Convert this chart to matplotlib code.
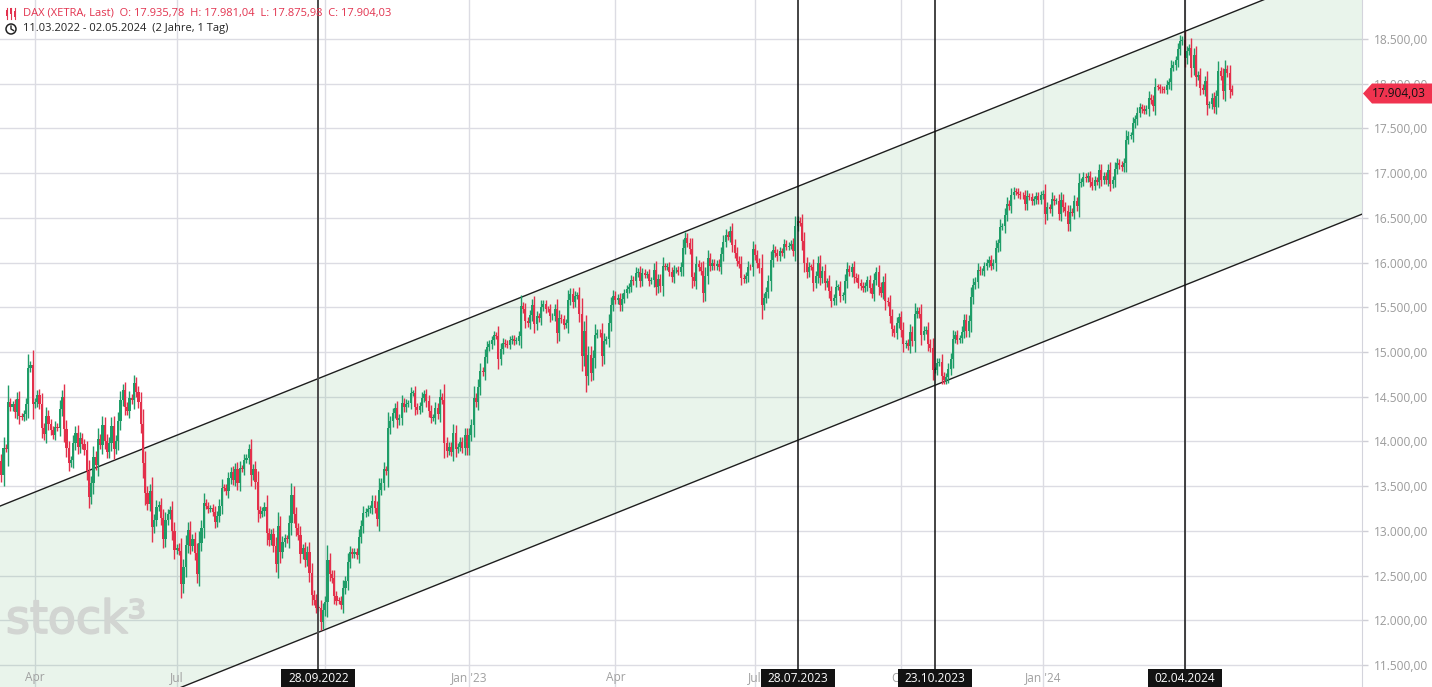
import numpy as np
import pandas as pd
import matplotlib
matplotlib.use("Agg")
import matplotlib.pyplot as plt
import matplotlib.transforms as mtransforms
import matplotlib.patheffects as pe
from matplotlib.patches import Polygon, Circle, Rectangle
from matplotlib.lines import Line2D
from matplotlib.ticker import FuncFormatter

# DAX (XETRA) daily candles 11.03.2022 - 02.05.2024 with a rising trend channel

W, H = 1432, 687        # output size in px
PLOT_W = 1362           # price scale starts here

plt.rcParams['font.family'] = ['Open Sans', 'DejaVu Sans']

# xetra holidays inside the range -> no candle
holidays = ["2022-04-15", "2022-04-18", "2022-12-26", "2023-04-07", "2023-04-10",
            "2023-05-01", "2023-12-25", "2023-12-26", "2024-01-01", "2024-03-29",
            "2024-04-01", "2024-05-01"]

# daily closes (one row per month)
closes_2022 = [
    13628, 13929, 13917, 14440, 14388, 14413, 14326, 14473, 14283, 14273, 14305, 14418, 14820, 14852, 14415,
    14446, 14518, 14424, 14151, 14078, 14284, 14193, 14124, 14076, 14164, 14153, 14362, 14502, 14142, 13924, 13756, 13794, 13979, 14098,
    13940, 14039, 13971, 13903, 13674, 13380, 13534, 13829, 13739, 14028, 13964, 14186, 14008, 13882, 13982, 14175, 13919, 14008, 14231, 14462, 14575, 14388,
    14340, 14485, 14460, 14653, 14556, 14446, 14199, 13762, 13427, 13304, 13447, 13038, 13126, 13266, 13293, 13145, 12912, 13118, 13186, 13231, 13003, 12784,
    12813, 12773, 12401, 12595, 12843, 13015, 12832, 12905, 12756, 12520, 12865, 13036, 13308, 13282, 13246, 13254, 13210, 13096, 13166, 13282, 13484,
    13479, 13449, 13587, 13662, 13574, 13687, 13535, 13701, 13694, 13795, 13816, 13911, 13627, 13697, 13544, 13230, 13194, 13221, 13271, 12971, 12893, 12961, 12835,
    12631, 13050, 12761, 12872, 12916, 12904, 13088, 13403, 13189, 13028, 12956, 12741, 12804, 12671, 12767, 12531, 12284, 12228, 12140, 12139, 11976, 12114,
    12209, 12671, 12517, 12471, 12273, 12220, 12219, 12172, 12356, 12438, 12649, 12765, 12741, 12767, 12731, 12931, 13053, 13196, 13211, 13243, 13254,
    13338, 13257, 13130, 13460, 13533, 13688, 13666, 14146, 14225, 14313, 14379, 14234, 14267, 14431, 14380, 14422, 14428, 14540, 14541, 14383, 14355, 14397,
    14490, 14529, 14448, 14343, 14261, 14265, 14371, 14306, 14497, 14460, 13987, 13894, 13942, 13885, 14098, 13914, 13940, 13995, 13926, 14071, 13924,
]
closes_2023 = [
    14069, 14181, 14490, 14436, 14610, 14792, 14775, 14948, 15058, 15087, 15134, 15187, 15181, 14920, 15033, 15103, 15093, 15082, 15132, 15150, 15126, 15128,
    15181, 15509, 15476, 15345, 15320, 15412, 15523, 15308, 15397, 15380, 15507, 15534, 15482, 15478, 15398, 15400, 15476, 15210, 15381, 15365,
    15305, 15328, 15578, 15654, 15559, 15631, 15633, 15428, 14959, 15233, 14735, 14967, 14768, 14933, 15195, 15216, 15210, 14957, 15128, 15142, 15329, 15522, 15629,
    15581, 15603, 15520, 15598, 15656, 15703, 15730, 15808, 15790, 15883, 15896, 15796, 15882, 15863, 15872, 15796, 15800, 15922,
    15726, 15815, 15734, 15961, 15953, 15955, 15897, 15834, 15914, 15917, 15897, 15952, 16164, 16275, 16223, 16152, 15842, 15793, 15984, 15953, 15909, 15664,
    15854, 16051, 15964, 15993, 15961, 15989, 15950, 16098, 16231, 16311, 16290, 16358, 16201, 16111, 16023, 15988, 15830, 15813, 15846, 15949, 15947, 16148,
    16081, 15995, 15938, 15529, 15603, 15673, 15791, 16024, 16141, 16105, 16068, 16125, 16109, 16204, 16178, 16190, 16211, 16131, 16406, 16469, 16447,
    16240, 15999, 15893, 15952, 15950, 15775, 15852, 15996, 15832, 15904, 15767, 15789, 15677, 15574, 15603, 15729, 15729, 15621, 15632, 15792, 15931, 15892, 15947,
    15840, 15825, 15772, 15741, 15718, 15740, 15800, 15715, 15654, 15805, 15893, 15727, 15664, 15781, 15572, 15557, 15405, 15256, 15217, 15323, 15387,
    15247, 15085, 15099, 15070, 15229, 15128, 15423, 15460, 15425, 15186, 15237, 15251, 15094, 15045, 14798, 14800, 14879, 14892, 14731, 14687, 14716, 14810,
    14923, 15144, 15190, 15136, 15153, 15229, 15353, 15234, 15345, 15615, 15749, 15787, 15919, 15901, 15901, 15958, 15995, 16029, 15966, 15993, 16166, 16215,
    16398, 16405, 16533, 16656, 16629, 16759, 16794, 16792, 16766, 16752, 16751, 16651, 16744, 16733, 16687, 16706, 16742, 16701, 16752,
]
closes_2024 = [
    16769, 16538, 16617, 16594, 16716, 16688, 16689, 16548, 16705, 16622, 16572, 16432, 16567, 16555, 16683, 16627, 16890, 16906, 16961, 16942, 16972, 16904,
    16859, 16918, 16904, 17033, 16922, 16963, 16926, 17037, 16880, 16919, 17047, 17117, 17092, 17068, 17118, 17370, 17419, 17423, 17556, 17601, 17678,
    17735, 17716, 17698, 17716, 17843, 17814, 17746, 17965, 17961, 17942, 17937, 17933, 17987, 18015, 18180, 18206, 18261, 18384, 18477, 18492,
    18283, 18367, 18403, 18175, 18318, 18077, 18097, 17955, 17930, 18027, 17767, 17770, 17838, 17737, 17860, 18137, 18089, 17917, 18161, 18118, 17932,
    17904.03,
]
first_open = 13780
last_ohlc = [17935.78, 17981.04, 17875.98, 17904.03]

# trend channel: lower line through the two lows, upper line parallel
channel_dates = ["2022-09-28", "2023-10-23"]
channel_lows = [11866, 14628]
channel_width = 2838

# vertical markers
event_dates = ["2022-09-28", "2023-07-28", "2023-10-23", "2024-04-02"]
event_labels = ["28.09.2022", "28.07.2023", "23.10.2023", "02.04.2024"]

price_ticks = list(range(11500, 19000, 500))

UP = '#1f9d68'
DOWN = '#e3304b'

dates = pd.bdate_range("2022-03-11", "2024-05-02")
dates = dates[~dates.isin(pd.to_datetime(holidays))]
closes = np.array(closes_2022 + closes_2023 + closes_2024, dtype=float)
n = min(len(dates), len(closes))
dates = dates[:n]
closes = closes[:n]
x = np.arange(n)

opens = np.concatenate([[first_open], closes[:-1]])
opens[-1] = last_ohlc[0]
body = np.abs(closes - opens)
top = np.maximum(opens, closes)
bot = np.minimum(opens, closes)
highs = top + 35 + 0.3 * body
lows = bot - 35 - 0.3 * body
highs[-1], lows[-1] = last_ohlc[1], last_ohlc[2]
cols = np.where(closes >= opens, UP, DOWN)


def idx_of(d):
    return int(np.searchsorted(dates, pd.Timestamp(d)))


def de_fmt(v):
    return f"{v:,.2f}".replace(",", "X").replace(".", ",").replace("X", ".")


fig = plt.figure(figsize=(W / 100, H / 100), dpi=100)
ax = fig.add_axes([0, 0, PLOT_W / W, 1])
ax.set_xlim(-0.556, 604.8)
ax.set_ylim(11254, 18936)
bt = mtransforms.blended_transform_factory(ax.transData, ax.transAxes)
event_idx = [idx_of(d) for d in event_dates]

# grid + month labels (labels under a date box are not shown)
for p in price_ticks:
    ax.axhline(p, color='#dcdce3', lw=1, zorder=1)
month_idx = [i for i in range(1, n) if dates[i].month in (1, 4, 7, 10) and dates[i].month != dates[i - 1].month]
for i in month_idx:
    ax.axvline(i, color='#dcdce3', lw=1, zorder=1)
    if min(abs(i - e) for e in event_idx) < 8:
        continue
    lab = dates[i].strftime("%b") if dates[i].month != 1 else dates[i].strftime("Jan '%y")
    ax.text(i, 9 / H, lab, transform=bt, ha='center', va='center', fontsize=8.6, color='#a0a0a0', zorder=2)

# channel
i0, i1 = idx_of(channel_dates[0]), idx_of(channel_dates[1])
slope = (channel_lows[1] - channel_lows[0]) / (i1 - i0)
xs = np.array([-10, 640])
lower = channel_lows[0] + (xs - i0) * slope
upper = lower + channel_width
ax.fill_between(xs, lower, upper, color='#50ac61', alpha=0.12, lw=0, zorder=1.5)
ax.plot(xs, lower, color='#1e1e1e', lw=1.0, zorder=3)
ax.plot(xs, upper, color='#1e1e1e', lw=1.0, zorder=3)

# watermark
fig.text(6 / W, 1 - 633 / H, "stock³", fontsize=33, color='#d2d5d2', family='DejaVu Sans',
         ha='left', va='baseline', zorder=0.5,
         path_effects=[pe.withStroke(linewidth=1.3, foreground='#d2d5d2')])

# candles
ax.vlines(x, lows, highs, colors=cols, lw=1.0, zorder=4)
ax.bar(x, np.maximum(body, 8), bottom=bot, width=0.9, color=cols, lw=0, zorder=4)

# event lines + date boxes
for k, (i, lab) in enumerate(zip(event_idx, event_labels)):
    ax.axvline(i, color='#4a4a4a' if k == 0 else '#111111', lw=1.4 if k == 0 else 1.1, zorder=5)
    ax.add_patch(Rectangle((i - 74 / 2.25 / 2, 0), 74 / 2.25, 18 / H, transform=bt,
                           facecolor='#121212', edgecolor='none', zorder=6, clip_on=False))
    ax.text(i, 9 / H, lab, transform=bt, ha='center', va='center', fontsize=8.6, color='white', zorder=7)

# price scale on the right
ax.yaxis.set_ticks_position('right')
ax.set_yticks(price_ticks)
ax.yaxis.set_major_formatter(FuncFormatter(lambda v, _: de_fmt(v)))
ax.tick_params(axis='y', length=4, width=1, color='#cfcfd6', pad=4.5, labelsize=8.6, labelcolor='#9b9b9b')
ax.set_xticks([])
for s in ['top', 'left', 'bottom']:
    ax.spines[s].set_visible(False)
ax.spines['right'].set_color('#d4d4dc')

# last price tag
py = 1 - 93.5 / H
tag = Polygon([(1363 / W, py), (1372 / W, py + 10 / H), (1432 / W, py + 10 / H),
               (1432 / W, py - 10 / H), (1372 / W, py - 10 / H)], closed=True,
              transform=fig.transFigure, facecolor='#f0334f', edgecolor='none', zorder=5)
fig.add_artist(tag)
fig.text(1399 / W, py, de_fmt(closes[-1]), ha='center', va='center', fontsize=8.6, color='#111111', zorder=6)

# header
fig.text(23 / W, 1 - 13 / H, "DAX (XETRA, Last)  O: 17.935,78  H: 17.981,04  L: 17.875,98  C: 17.904,03",
         ha='left', va='center', fontsize=8.0, color='#e2334f')
fig.text(23 / W, 1 - 29 / H, "11.03.2022 - 02.05.2024  (2 Jahre, 1 Tag)",
         ha='left', va='center', fontsize=8.0, color='#222222')
for xx, (a, b) in zip([7, 11, 15], [(10, 16), (8, 14), (11, 17)]):
    fig.add_artist(Line2D([xx / W, xx / W], [1 - 8 / H, 1 - 19 / H], transform=fig.transFigure, color='#e2334f', lw=0.8))
    fig.add_artist(Rectangle(((xx - 1.2) / W, 1 - b / H), 2.4 / W, (b - a) / H, transform=fig.transFigure,
                             facecolor='#e2334f', edgecolor='none'))
# clock icon, drawn in inches so it stays round
fig.add_artist(Circle((11 / 100, (H - 29) / 100), 0.05, transform=fig.dpi_scale_trans, facecolor='none',
                      edgecolor='#222222', lw=1.1))
fig.add_artist(Line2D([0.11, 0.11, 0.135], [(H - 26) / 100, (H - 29) / 100, (H - 30.5) / 100],
                      transform=fig.dpi_scale_trans, color='#222222', lw=1.0))

fig.savefig("out.png", dpi=100)
